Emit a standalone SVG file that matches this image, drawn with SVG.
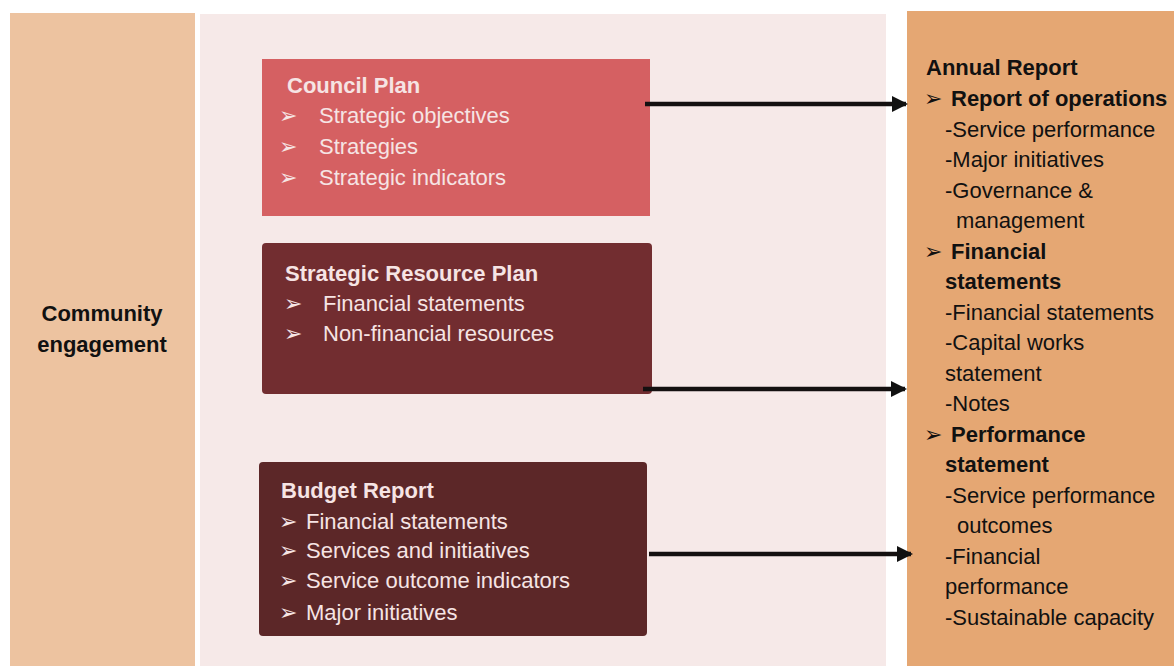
<svg xmlns="http://www.w3.org/2000/svg" width="1174" height="666" viewBox="0 0 1174 666">
  <style>
    .t { font-family: "Liberation Sans", Arial, sans-serif; font-size: 22px; }
    .b { font-weight: bold; }
    .lt { fill: #F6E4E4; }
    .dk { fill: #111111; }
    .bul { font-family: "DejaVu Sans", sans-serif; font-size: 22px; }
    .conn { stroke: #141010; stroke-width: 4.5; fill: none; marker-end: url(#head); }
  </style>
  <defs>
    <marker id="head" viewBox="0 0 16 16" refX="14" refY="8" markerWidth="16" markerHeight="16" markerUnits="userSpaceOnUse" orient="auto">
      <path d="M0,0 L16,8 L0,16 Z" fill="#111111"/>
    </marker>
  </defs>

  <rect width="1174" height="666" fill="#FFFFFF"/>

  <!-- left band -->
  <g id="community">
    <rect x="10" y="13" width="185" height="653" fill="#EDC3A0"/>
    <text class="t b dk" x="102" y="321" text-anchor="middle">Community</text>
    <text class="t b dk" x="102" y="352" text-anchor="middle">engagement</text>
  </g>

  <!-- central planning area -->
  <g id="planning-area">
    <rect x="200" y="14" width="686" height="652" fill="#F6E9E8"/>
  </g>

  <g id="council-plan">
    <rect x="262" y="59" width="388" height="157" fill="#D56062"/>
    <text class="t b lt" x="287" y="93">Council Plan</text>
    <text class="bul lt" x="279" y="123">➢</text>
    <text class="t lt" x="319" y="123">Strategic objectives</text>
    <text class="bul lt" x="279" y="154">➢</text>
    <text class="t lt" x="319" y="154">Strategies</text>
    <text class="bul lt" x="279" y="185">➢</text>
    <text class="t lt" x="319" y="185">Strategic indicators</text>
  </g>

  <g id="strategic-resource-plan">
    <rect x="262" y="243" width="390" height="151" rx="4" fill="#722D30"/>
    <text class="t b lt" x="285" y="281">Strategic Resource Plan</text>
    <text class="bul lt" x="284" y="311">➢</text>
    <text class="t lt" x="323" y="311">Financial statements</text>
    <text class="bul lt" x="284" y="341">➢</text>
    <text class="t lt" x="323" y="341">Non-financial resources</text>
  </g>

  <g id="budget-report">
    <rect x="259" y="462" width="388" height="174" rx="4" fill="#5C2728"/>
    <text class="t b lt" x="281" y="498">Budget Report</text>
    <text class="bul lt" x="279" y="529">➢</text>
    <text class="t lt" x="306" y="529">Financial statements</text>
    <text class="bul lt" x="279" y="558">➢</text>
    <text class="t lt" x="306" y="558">Services and initiatives</text>
    <text class="bul lt" x="279" y="588">➢</text>
    <text class="t lt" x="306" y="588">Service outcome indicators</text>
    <text class="bul lt" x="279" y="620">➢</text>
    <text class="t lt" x="306" y="620">Major initiatives</text>
  </g>

  <!-- right band -->
  <g id="annual-report">
    <rect x="907" y="11" width="267" height="655" fill="#E5A773"/>
    <text class="t b dk" x="926" y="75">Annual Report</text>
    <text class="bul dk" x="924" y="106">➢</text>
    <text class="t b dk" x="951" y="106">Report of operations</text>
    <text class="t dk" x="945" y="136.5">-Service performance</text>
    <text class="t dk" x="945" y="167">-Major initiatives</text>
    <text class="t dk" x="945" y="197.5">-Governance &amp;</text>
    <text class="t dk" x="956" y="228">management</text>
    <text class="bul dk" x="924" y="258.5">➢</text>
    <text class="t b dk" x="951" y="258.5">Financial</text>
    <text class="t b dk" x="945" y="289">statements</text>
    <text class="t dk" x="945" y="319.5">-Financial statements</text>
    <text class="t dk" x="945" y="350">-Capital works</text>
    <text class="t dk" x="945" y="380.5">statement</text>
    <text class="t dk" x="945" y="411">-Notes</text>
    <text class="bul dk" x="924" y="441.5">➢</text>
    <text class="t b dk" x="951" y="441.5">Performance</text>
    <text class="t b dk" x="945" y="472">statement</text>
    <text class="t dk" x="945" y="502.5">-Service performance</text>
    <text class="t dk" x="957" y="533">outcomes</text>
    <text class="t dk" x="945" y="563.5">-Financial</text>
    <text class="t dk" x="945" y="594">performance</text>
    <text class="t dk" x="945" y="624.5">-Sustainable capacity</text>
  </g>

  <!-- connectors -->
  <g id="connectors">
    <line class="conn" x1="645" y1="104" x2="906" y2="104"/>
    <line class="conn" x1="643" y1="389" x2="905" y2="389"/>
    <line class="conn" x1="649" y1="554" x2="911" y2="554"/>
  </g>
</svg>
